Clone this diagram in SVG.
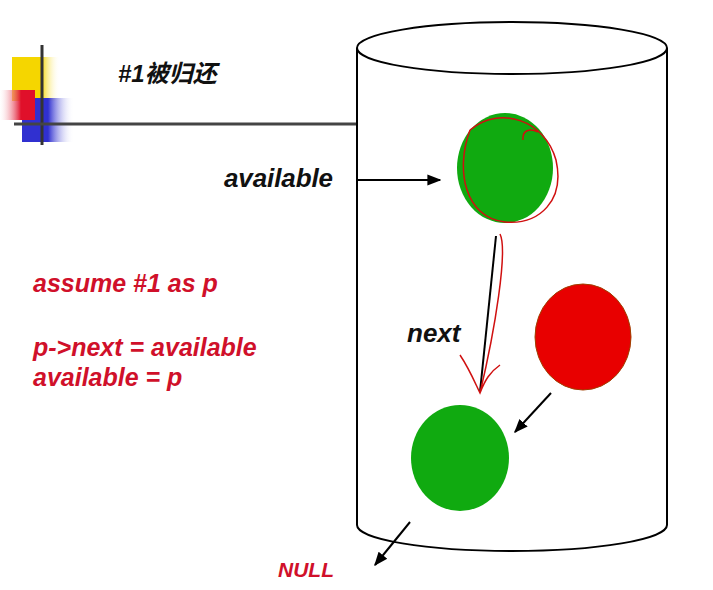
<svg xmlns="http://www.w3.org/2000/svg" width="713" height="590" viewBox="0 0 713 590">
<defs>
<marker id="ah" viewBox="0 0 10 10" refX="9" refY="5" markerWidth="7" markerHeight="7" orient="auto"><path d="M0,1 L10,5 L0,9 z" fill="#000"/></marker>
<linearGradient id="fy" x1="0" x2="1"><stop offset="0.6" stop-color="#f5d600"/><stop offset="1" stop-color="#fff" stop-opacity="0"/></linearGradient>
<linearGradient id="fb" x1="0" x2="1"><stop offset="0.5" stop-color="#3030d0"/><stop offset="1" stop-color="#fff" stop-opacity="0"/></linearGradient>
<linearGradient id="fr" x1="1" x2="0"><stop offset="0.4" stop-color="#e0102a"/><stop offset="1" stop-color="#fff" stop-opacity="0.2"/></linearGradient>
</defs>
<style>
.t{font-family:"Liberation Sans","Noto Sans CJK SC",sans-serif;font-weight:bold;font-style:italic}
.r{fill:#d0102a}
.k{fill:#111}
.ln{stroke:#000;stroke-width:2;fill:none}
</style>
<rect width="713" height="590" fill="#fff"/>
<g id="logo">
<rect x="12" y="57" width="48" height="44" fill="url(#fy)"/>
<rect x="22" y="98" width="52" height="44" fill="url(#fb)"/>
<rect x="0" y="90" width="35" height="30" fill="url(#fr)"/>
<line x1="42" y1="45" x2="42" y2="145" stroke="#333" stroke-width="3"/>
<line x1="14" y1="124" x2="357" y2="124" stroke="#444" stroke-width="3"/>
</g>
<g id="title"><text class="t k" x="118" y="82" font-size="24" transform="skewX(0)">#1被归还</text></g>
<g id="cylinder">
<ellipse cx="512" cy="48" rx="155" ry="26" fill="none" stroke="#000" stroke-width="2"/>
<line x1="357" y1="48" x2="357" y2="525" class="ln"/>
<line x1="667" y1="48" x2="667" y2="525" class="ln"/>
<path d="M357,525 A155,26 0 0 0 667,525" class="ln"/>
</g>
<g id="node1"><ellipse cx="505" cy="168" rx="48" ry="55" fill="#10aa10"/>
<path d="M470,130 C500,105 545,120 556,160 C565,200 540,225 505,222 C465,218 455,170 470,130 M523,140 C522,130 530,128 538,132" fill="none" stroke="#d01010" stroke-width="1.5"/></g>
<g id="node2"><ellipse cx="583" cy="337" rx="48" ry="53" fill="#e80000" stroke="#a04000" stroke-width="1"/></g>
<g id="node3"><ellipse cx="460" cy="458" rx="49" ry="53" fill="#10aa10"/></g>
<g id="labels">
<text class="t k" x="224" y="187" font-size="26" textLength="109">available</text>
<text class="t r" x="33" y="292" font-size="25">assume #1 as p</text>
<text class="t r" x="33" y="356" font-size="25">p-&gt;next = available</text>
<text class="t r" x="33" y="386" font-size="25">available = p</text>
<text class="t k" x="407" y="342" font-size="26">next</text>
<text class="t r" x="278" y="577" font-size="21">NULL</text>
</g>
<g id="connectors">
<line x1="358" y1="180" x2="440" y2="180" class="ln" marker-end="url(#ah)"/>
<line x1="496" y1="236" x2="480" y2="392" class="ln"/>
<path d="M500,234 C508,250 495,330 480,393 M460,355 C470,370 476,385 480,393 C485,380 490,372 500,365" fill="none" stroke="#d01010" stroke-width="1.5"/>
<line x1="551" y1="393" x2="515" y2="432" class="ln" marker-end="url(#ah)"/>
<line x1="410" y1="522" x2="375" y2="565" class="ln" marker-end="url(#ah)"/>
</g>
</svg>
